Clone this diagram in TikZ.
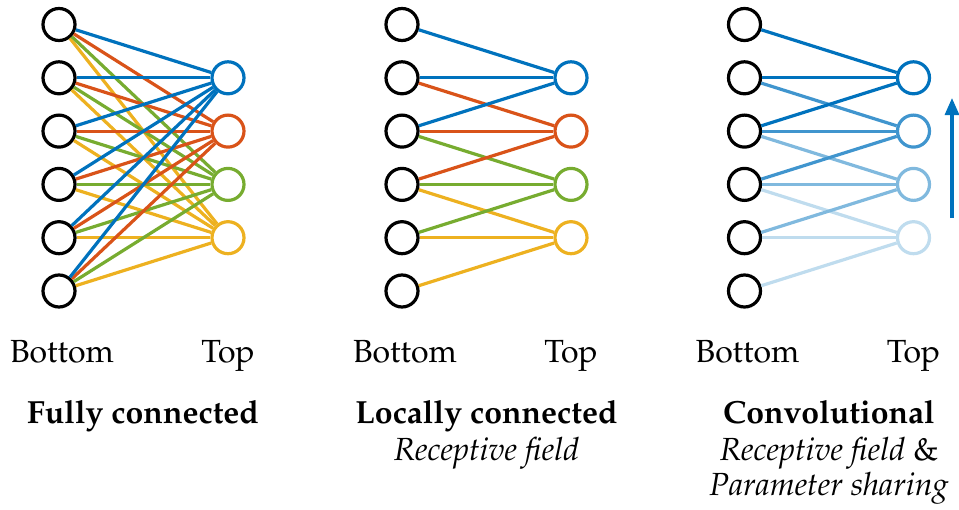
\documentclass[tikz,border=0pt]{standalone}
\usepackage[T1]{fontenc}
\usepackage{mathpazo}
\usetikzlibrary{arrows.meta}
\definecolor{mblue}{RGB}{0,114,189}
\definecolor{morange}{RGB}{217,83,25}
\definecolor{myellow}{RGB}{237,177,32}
\definecolor{mgreen}{RGB}{119,172,48}

\begin{document}
\begin{tikzpicture}[x=0.5pt, y=-0.5pt]
\tikzstyle{unit}=[circle, draw, line width=1.6pt, minimum size=16pt, inner sep=0pt]
\tikzstyle{link}=[line width=1.6pt]
\tikzstyle{caption}=[font=\fontsize{16}{19}\selectfont, anchor=base, inner sep=0pt]
\useasboundingbox (0,0) rectangle (959,509);
% units of the three layers
\foreach \p/\dx in {f/0, l/343, c/685.5} {
  \foreach \i in {1,...,6}
    \node[unit] (\p b\i) at ({59+\dx}, {24.5+53.3*(\i-1)}) {};
}
\foreach \p/\dx in {f/0, l/343} {
  \foreach \j/\c in {1/mblue, 2/morange, 3/mgreen, 4/myellow}
    \node[unit, \c] (\p t\j) at ({228+\dx}, {24.5+53.3*\j}) {};
}
\foreach \j/\c in {1/mblue, 2/mblue!75, 3/mblue!50, 4/mblue!25}
  \node[unit, \c] (ct\j) at (913.5, {24.5+53.3*\j}) {};
% fully connected
\foreach \j/\c in {4/myellow, 3/mgreen, 2/morange, 1/mblue}
  \foreach \i in {1,...,6}
    \draw[link, \c] (fb\i) -- (ft\j);
% locally connected
\foreach \j/\c in {4/myellow, 3/mgreen, 2/morange, 1/mblue}
  \foreach \k in {0,1,2} {
    \pgfmathtruncatemacro{\i}{\j+\k}
    \draw[link, \c] (lb\i) -- (lt\j);
  }
% convolutional
\foreach \j/\c in {4/mblue!25, 3/mblue!50, 2/mblue!75, 1/mblue}
  \foreach \k in {0,1,2} {
    \pgfmathtruncatemacro{\i}{\j+\k}
    \draw[link, \c] (cb\i) -- (ct\j);
  }
\coordinate (cfrom) at (952,218);
\coordinate (cto) at (952,98);
\draw[link, mblue, -{Triangle[length=8.5pt, width=7pt]}] (cfrom) -- (cto);
% captions
\node[caption] (fbottom) at (62,362) {Bottom};
\node[caption] (ftop) at (228,362) {Top};
\node[caption] (ftitle) at (143,423) {\textbf{Fully connected}};
\node[caption] (lbottom) at (405,362) {Bottom};
\node[caption] (ltop) at (571,362) {Top};
\node[caption] (ltitle) at (486.5,423) {\textbf{Locally connected}};
\node[caption] (lsub) at (486.5,460) {\textit{Receptive field}};
\node[caption] (cbottom) at (747.5,362) {Bottom};
\node[caption] (ctop) at (913.5,362) {Top};
\node[caption] (ctitle) at (829,423) {\textbf{Convolutional}};
\node[caption] (csub) at (829,460) {\textit{Receptive field} \&};
\node[caption] (csubb) at (829,495) {\textit{Parameter sharing}};
\end{tikzpicture}
\end{document}
